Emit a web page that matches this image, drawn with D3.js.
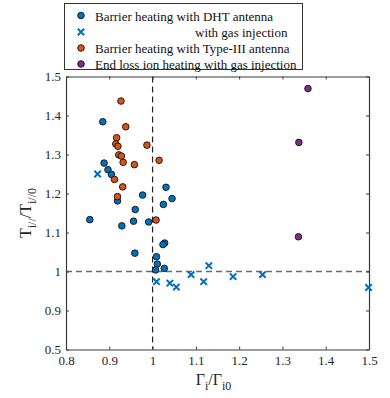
<!DOCTYPE html>
<html><head><meta charset="utf-8">
<script src="https://cdn.jsdelivr.net/npm/d3@7"></script>
<style>body{margin:0;background:#fff}svg{display:block}svg text{font-family:"Liberation Serif","Times New Roman",serif !important}</style>
</head><body><svg id="c" width="390" height="398" font-family="Liberation Serif"></svg>
<script>
// Data
const dhtX = [0.885,0.888,0.897,0.905,1.031,1.045,0.977,0.919,1.025,0.960,0.855,0.956,0.991,0.929,1.028,1.024,0.959,1.009,1.011,1.027,1.007];
const dhtY = [1.384,1.278,1.261,1.249,1.216,1.187,1.196,1.181,1.172,1.159,1.133,1.129,1.127,1.117,1.073,1.069,1.047,1.038,1.019,1.008,1.004];
const gasX = [0.873,1.009,1.040,1.055,1.089,1.118,1.130,1.186,1.254,1.499];
const gasY = [1.250,0.974,0.970,0.960,0.992,0.974,1.015,0.987,0.992,0.959];
const t3X = [0.927,0.938,0.917,0.915,0.920,0.987,0.922,0.928,0.932,0.958,1.015,0.912,0.931,0.919,1.008];
const t3Y = [1.437,1.371,1.343,1.327,1.321,1.324,1.299,1.296,1.280,1.274,1.285,1.236,1.217,1.192,1.132];
const endX = [1.359,1.338,1.337];
const endY = [1.469,1.331,1.089];
const xTicks = [0.8,0.9,1.0,1.1,1.2,1.3,1.4,1.5];
const xTickLabels = ["0.8","0.9","1","1.1","1.2","1.3","1.4","1.5"];
const yTicks = [0.8,0.9,1.0,1.1,1.2,1.3,1.4,1.5];
const yTickLabels = ["0.5","0.9","1","1.1","1.2","1.3","1.4","1.5"];
const legendLabels = ["Barrier heating with DHT antenna","with gas injection","Barrier heating with Type-III antenna","End loss ion heating with gas injection"];
const colors = {blue:"#0072BD", orange:"#D95319", purple:"#7E2F8E"};
const FONT = "Liberation Serif, Times New Roman, serif";

const svg = d3.select("#c");
const L=66, R=369, T=76.5, B=349.5;
const x = d3.scaleLinear().domain([0.8,1.5]).range([L,R]);
const y = d3.scaleLinear().domain([0.8,1.5]).range([B,T]);
const axisCol = "#3a3a3a", textCol="#262626";

// dashed reference lines
svg.append("line").attr("x1",L).attr("x2",R).attr("y1",y(1)).attr("y2",y(1))
  .attr("stroke","#6a6a6a").attr("stroke-width",1.6).attr("stroke-dasharray","6,4");
svg.append("line").attr("x1",x(1)).attr("x2",x(1)).attr("y1",T).attr("y2",B)
  .attr("stroke","#222").attr("stroke-width",1.2).attr("stroke-dasharray","6,4");

// axes
const fmtX = (d,i)=>xTickLabels[i], fmtY=(d,i)=>yTickLabels[i];
const gB = svg.append("g").attr("transform",`translate(0,${B})`)
  .call(d3.axisBottom(x).tickValues(xTicks).tickFormat(fmtX).tickSizeInner(-3).tickSizeOuter(0).tickPadding(6));
const gT = svg.append("g").attr("transform",`translate(0,${T})`)
  .call(d3.axisTop(x).tickValues(xTicks).tickFormat("").tickSizeInner(-3).tickSizeOuter(0));
const gL = svg.append("g").attr("transform",`translate(${L},0)`)
  .call(d3.axisLeft(y).tickValues(yTicks).tickFormat(fmtY).tickSizeInner(-3).tickSizeOuter(0).tickPadding(5));
const gR = svg.append("g").attr("transform",`translate(${R},0)`)
  .call(d3.axisRight(y).tickValues(yTicks).tickFormat("").tickSizeInner(-3).tickSizeOuter(0));
[gB,gT,gL,gR].forEach(g=>{
  g.attr("font-family",FONT).attr("font-size",13);
  g.select(".domain").attr("stroke",axisCol).attr("stroke-width",1.2);
  g.selectAll(".tick line").attr("stroke",axisCol);
  g.selectAll(".tick text").attr("fill",textCol).attr("font-size",13).attr("font-family",FONT);
});

// markers
function circles(xs,ys,col){
  svg.append("g").selectAll("circle").data(xs).join("circle")
    .attr("cx",(d)=>x(d)).attr("cy",(d,i)=>y(ys[i])).attr("r",3.3)
    .attr("fill",col).attr("stroke","#111").attr("stroke-width",0.9);
}
circles(dhtX,dhtY,colors.blue);
circles(t3X,t3Y,colors.orange);
circles(endX,endY,colors.purple);
const cs=3.2;
function cross(g,cx,cy){
  g.append("path").attr("d",`M${cx-cs},${cy-cs}L${cx+cs},${cy+cs}M${cx-cs},${cy+cs}L${cx+cs},${cy-cs}`)
   .attr("stroke",colors.blue).attr("stroke-width",2).attr("fill","none");
}
const gc = svg.append("g");
gasX.forEach((d,i)=>cross(gc,x(d),y(gasY[i])));

// axis labels
const xl = svg.append("text").attr("x",(L+R)/2-4).attr("y",385).attr("text-anchor","middle")
  .attr("font-size",16).attr("fill",textCol).attr("font-family",FONT);
xl.append("tspan").text("Γ");
xl.append("tspan").attr("dy",5).attr("font-size",12).text("i");
xl.append("tspan").attr("dy",-5).text("/Γ");
xl.append("tspan").attr("dy",5).attr("font-size",12).text("i0");
const yl = svg.append("text").attr("transform",`translate(31,${(T+B)/2}) rotate(-90)`).attr("text-anchor","middle")
  .attr("font-size",16).attr("fill",textCol).attr("font-family",FONT);
yl.append("tspan").text("T");
yl.append("tspan").attr("dy",5).attr("font-size",12).text("i//");
yl.append("tspan").attr("dy",-5).text("/T");
yl.append("tspan").attr("dy",5).attr("font-size",12).text("i//0");

// legend
const lg = svg.append("g");
lg.append("rect").attr("x",64.5).attr("y",3.5).attr("width",238).attr("height",66)
  .attr("fill","#fff").attr("stroke","#333").attr("stroke-width",1);
const rowsY=[16.5,33,49,65];
const mk=81;
lg.append("circle").attr("cx",mk).attr("cy",rowsY[0]-1).attr("r",3.3).attr("fill",colors.blue).attr("stroke","#111").attr("stroke-width",0.9);
cross(lg,mk,rowsY[1]-1);
lg.append("circle").attr("cx",mk).attr("cy",rowsY[2]-1).attr("r",3.3).attr("fill",colors.orange).attr("stroke","#111").attr("stroke-width",0.9);
lg.append("circle").attr("cx",mk).attr("cy",rowsY[3]-1).attr("r",3.3).attr("fill",colors.purple).attr("stroke","#111").attr("stroke-width",0.9);
const tx=[95,195,95,95];
legendLabels.forEach((t,i)=>{
  lg.append("text").attr("x",tx[i]).attr("y",rowsY[i]+4).attr("font-size",13).attr("fill","#111").attr("font-family",FONT).text(t);
});
</script></body></html>
